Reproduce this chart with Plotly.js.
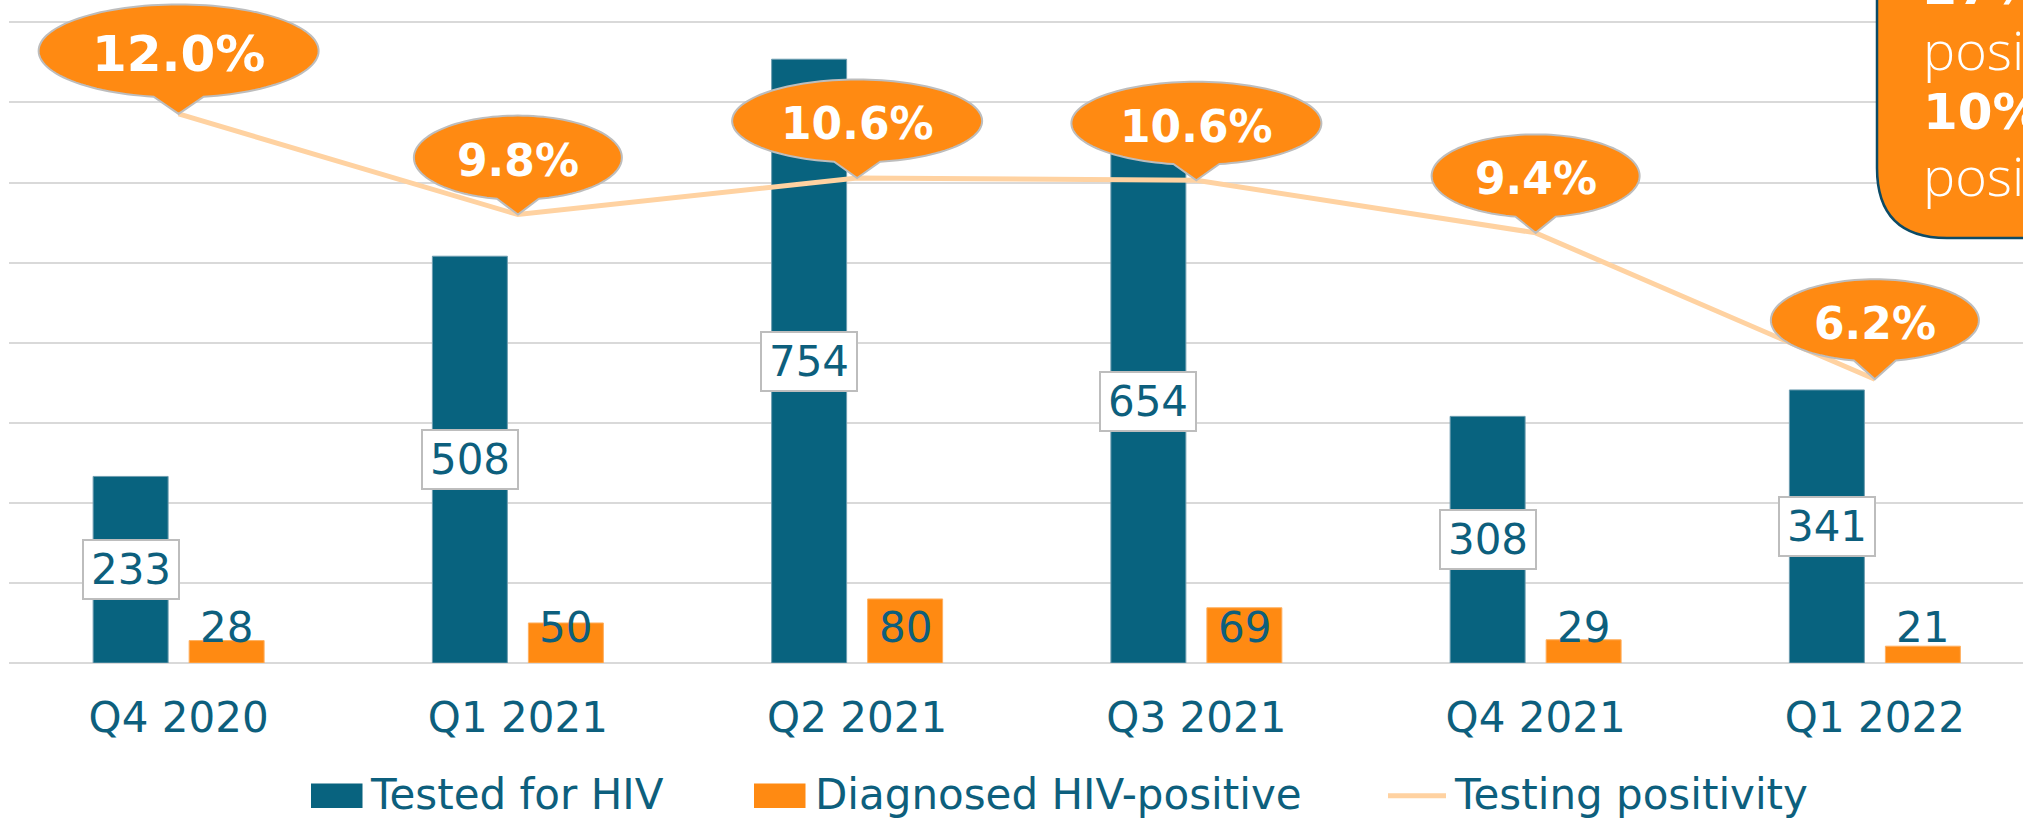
<!DOCTYPE html>
<html><head><meta charset="utf-8">
<script src="https://cdn.plot.ly/plotly-3.0.1.min.js"></script>
<style>html,body{margin:0;padding:0;overflow:hidden;background:#fff}#chart{width:2023px;height:820px}</style>
</head><body><div id="chart"></div>
<script>
// ---------------- data ----------------
const quarters = ['Q4 2020', 'Q1 2021', 'Q2 2021', 'Q3 2021', 'Q4 2021', 'Q1 2022'];
const testedForHIV = [233, 508, 754, 654, 308, 341];
const diagnosedPositive = [28, 50, 80, 69, 29, 21];
const testingPositivity = [12.0, 9.8, 10.6, 10.55, 9.4, 6.2];
const seriesNames = ['Tested for HIV', 'Diagnosed HIV-positive', 'Testing positivity'];
const calloutLines = ['27%', 'positivity', '10%', 'positivity'];

// ---------------- style / layout ----------------
const W = 2023, H = 820, ML = 9, MR = 0, MT = 0, MB = 157;
const plotW = W - ML - MR, plotH = H - MT - MB;
const pxX = px => (px - ML) / plotW;
const pxY = py => (MT + plotH - py) / plotH;
const CAT_PX = 339.25;          // pixels per category
const PX_PER_UNIT = 0.80075;     // left axis
const PX_PER_PCT = 45.757;       // right axis

const FONT = 'DejaVu Sans';
const TEAL = '#08637F';
const TEXT = '#0D5F7D';
const ORANGE = '#FF8A12';
const PEACH = '#FFD2A1';
const GRID = '#D9D9D9';
const BORDER = '#BDBDBD';

// bubble styles (size per callout)
const bubbleW = [280, 208, 250, 250, 208, 208];
const bubbleH = [93, 84, 83, 83, 83, 82];
const bubbleD = [63, 57, 57, 57, 57, 59];
const bubbleFont = [50, 44, 44, 44, 44, 44];
const bubbleHW = [25, 21, 23, 23, 20, 21];

function bubblePath(w, h, d, hw) {
  const a = w / 2, b = h / 2, phi = Math.acos(hw / a);
  const pts = [[0, 0]];
  const N = 120;
  for (let k = 0; k <= N; k++) {
    const t = -phi + (Math.PI + 2 * phi) * k / N;
    pts.push([a * Math.cos(t), d + b * Math.sin(t)]);
  }
  return 'M' + pts.map(p => p[0].toFixed(2) + ',' + p[1].toFixed(2)).join('L') + 'Z';
}

const traces = [
  {type: 'bar', x: quarters, y: testedForHIV, name: seriesNames[0],
   marker: {color: TEAL, line: {color: '#6E9DB0', width: 1}}, hoverinfo: 'skip'},
  {type: 'bar', x: quarters, y: diagnosedPositive, name: seriesNames[1],
   marker: {color: ORANGE, line: {color: '#FFB060', width: 1}}, hoverinfo: 'skip'},
  {type: 'scatter', mode: 'lines', x: quarters, y: testingPositivity, name: seriesNames[2],
   yaxis: 'y2', line: {color: PEACH, width: 5}, hoverinfo: 'skip'}
];

const shapes = [];
const annotations = [];

// value labels on bars
testedForHIV.forEach((v, i) => {
  annotations.push({x: i, y: v / 2, xref: 'x', yref: 'y', xshift: -48, text: String(v),
    showarrow: false, font: {family: FONT, size: 42, color: TEXT},
    bgcolor: '#FFFFFF', bordercolor: BORDER, borderwidth: 2, borderpad: 0,
    width: 94, height: 57, xanchor: 'center', yanchor: 'middle'});
});
diagnosedPositive.forEach((v, i) => {
  annotations.push({x: i, y: 0, xref: 'x', yref: 'y', xshift: 48, yshift: 36, text: String(v),
    showarrow: false, font: {family: FONT, size: 42, color: TEXT},
    xanchor: 'center', yanchor: 'middle'});
});

// positivity callouts
testingPositivity.forEach((v, i) => {
  shapes.push({type: 'path', xref: 'x', yref: 'y2', xsizemode: 'pixel', ysizemode: 'pixel',
    xanchor: i, yanchor: v, path: bubblePath(bubbleW[i], bubbleH[i], bubbleD[i], bubbleHW[i]),
    fillcolor: ORANGE, line: {color: BORDER, width: 2}, layer: 'above'});
  annotations.push({x: i, y: v, xref: 'x', yref: 'y2', yshift: bubbleD[i] - 3,
    text: v.toFixed(1) + '%', showarrow: false,
    font: {family: FONT, size: bubbleFont[i], color: '#FFFFFF', weight: 700},
    xanchor: 'center', yanchor: 'middle'});
});

// top-right summary box (cropped by the page edge)
(function () {
  const L = 1877, B = 238, R = 70;
  const path = 'M' + pxX(L) + ',' + pxY(-20) +
    ' L' + pxX(L) + ',' + pxY(B - R) +
    ' Q' + pxX(L) + ',' + pxY(B) + ' ' + pxX(L + R) + ',' + pxY(B) +
    ' L' + pxX(2200) + ',' + pxY(B) + ' L' + pxX(2200) + ',' + pxY(-20) + 'Z';
  shapes.push({type: 'path', xref: 'paper', yref: 'paper', path: path,
    fillcolor: ORANGE, line: {color: '#0C4B66', width: 2.5}, layer: 'above'});
  const baselines = [4.5, 68, 130, 194];
  const sizes = [50, 54, 50, 54];
  const bold = [true, false, true, false];
  calloutLines.forEach((t, k) => {
    annotations.push({xref: 'paper', yref: 'paper', x: pxX(1921), y: pxY(baselines[k] - 0.36 * sizes[k]),
      xanchor: 'left', yanchor: 'middle', showarrow: false, text: t,
      font: bold[k] ? {family: FONT, size: sizes[k], color: '#FFFFFF', weight: 700}
                    : {family: 'Open Sans', size: sizes[k], color: '#FFFFFF', weight: 300}});
  });
})();

// legend (drawn manually to match swatch sizes)
shapes.push({type: 'rect', xref: 'paper', yref: 'paper', x0: pxX(311), x1: pxX(362.5),
  y0: pxY(808), y1: pxY(783.5), fillcolor: TEAL, line: {width: 0}});
shapes.push({type: 'rect', xref: 'paper', yref: 'paper', x0: pxX(754), x1: pxX(805.5),
  y0: pxY(808), y1: pxY(783.5), fillcolor: ORANGE, line: {width: 0}});
shapes.push({type: 'line', xref: 'paper', yref: 'paper', x0: pxX(1388), x1: pxX(1446),
  y0: pxY(795.7), y1: pxY(795.7), line: {color: PEACH, width: 5}});
[[367.5, seriesNames[0]], [813, seriesNames[1]], [1452, seriesNames[2]]].forEach(([px, t]) => {
  annotations.push({xref: 'paper', yref: 'paper', x: pxX(px), y: pxY(794), xanchor: 'left',
    yanchor: 'middle', showarrow: false, text: t, font: {family: FONT, size: 42, color: TEXT}});
});

const layout = {
  width: W, height: H,
  margin: {l: ML, r: MR, t: MT, b: MB, pad: 0},
  paper_bgcolor: '#FFFFFF', plot_bgcolor: '#FFFFFF',
  showlegend: false,
  barmode: 'group', bargap: 0.434, bargroupgap: 0.219,
  font: {family: FONT, color: TEXT},
  xaxis: {type: 'category', range: [-0.5, -0.5 + plotW / CAT_PX], showgrid: false,
    zeroline: false, showline: false, ticks: '', ticklabelstandoff: 26,
    tickfont: {family: FONT, size: 42, color: TEXT}, fixedrange: true},
  yaxis: {range: [0, plotH / PX_PER_UNIT], tick0: 0, dtick: 100, showgrid: true,
    gridcolor: GRID, gridwidth: 2, zeroline: true, zerolinecolor: GRID, zerolinewidth: 2,
    showticklabels: false, ticks: '', fixedrange: true},
  yaxis2: {overlaying: 'y', side: 'right', range: [0, plotH / PX_PER_PCT], showgrid: false,
    zeroline: false, showticklabels: false, ticks: '', fixedrange: true},
  shapes: shapes,
  annotations: annotations,
  hovermode: false
};

Plotly.newPlot('chart', traces, layout, {displayModeBar: false, staticPlot: true});
</script>
</body></html>
